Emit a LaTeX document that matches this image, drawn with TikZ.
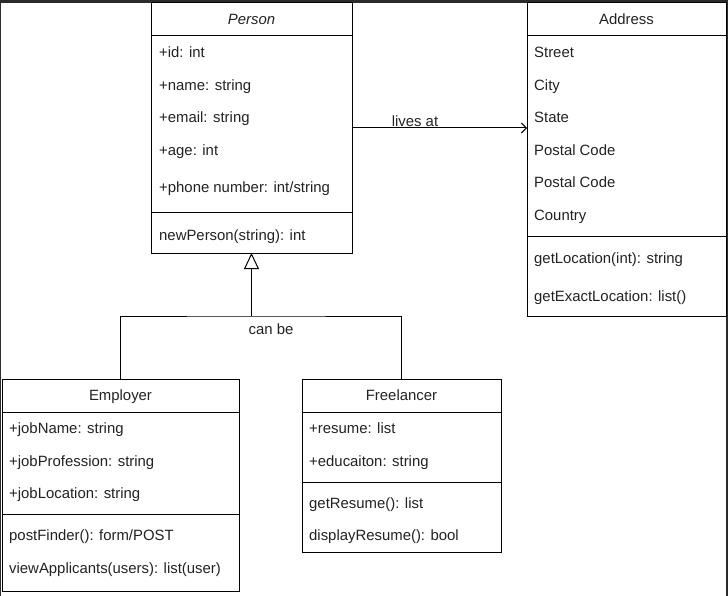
\documentclass[tikz,border=0pt]{standalone}
\usepackage{fontspec}
\setmainfont{Liberation Sans}
\usetikzlibrary{arrows.meta}
\definecolor{ink}{HTML}{222222}
\definecolor{framec}{HTML}{2B2B2B}
\begin{document}
\begin{tikzpicture}[x=1pt,y=-1pt,
  box/.style={draw=black, line width=1pt, anchor=north west, inner sep=0pt, outer sep=0pt},
  txt/.style={anchor=west, inner sep=0pt, text height=10.7pt, text depth=0pt, font=\fontsize{14.9}{16}\selectfont, text=ink},
  hdr/.style={txt, anchor=center},
  lbl/.style={txt, anchor=center},
  sepline/.style={line width=1pt},
  conn/.style={line width=1pt, draw=black}]
\useasboundingbox (0,0) rectangle (728,596);
\fill[framec] (0,0) rectangle (728,3);
\draw[framec, line width=1pt] (0.5,0) -- (0.5,596);
\draw[framec, line width=2pt] (727,0) -- (727,596);

% Person
\node[box, minimum width=201pt, minimum height=250pt] (person) at (151,3) {};
\draw[sepline] ([yshift=-33pt]person.north west) -- ([yshift=-33pt]person.north east);
\draw[sepline] ([yshift=-210pt]person.north west) -- ([yshift=-210pt]person.north east);
\node[hdr] (personh) at (251.5,19) {\textit{Person}};
\node[txt] (p1) at (159,52) {+id: int};
\node[txt] (p2) at (159,85) {+name: string};
\node[txt] (p3) at (159,117) {+email: string};
\node[txt] (p4) at (159,150) {+age: int};
\node[txt] (p5) at (159,187) {+phone number: int/string};
\node[txt] (p6) at (159,235) {newPerson(string): int};

% Address
\node[box, minimum width=199pt, minimum height=313pt] (address) at (527,3) {};
\draw[sepline] ([yshift=-33pt]address.north west) -- ([yshift=-33pt]address.north east);
\draw[sepline] ([yshift=-233pt]address.north west) -- ([yshift=-233pt]address.north east);
\node[hdr] (addressh) at (626.5,19) {Address};
\node[txt] (a1) at (534,52) {Street};
\node[txt] (a2) at (534,85) {City};
\node[txt] (a3) at (534,117) {State};
\node[txt] (a4) at (534,150) {Postal Code};
\node[txt] (a5) at (534,182) {Postal Code};
\node[txt] (a6) at (534,215) {Country};
\node[txt] (a7) at (534,258) {getLocation(int): string};
\node[txt] (a8) at (534,296) {getExactLocation: list()};

% Employer
\node[box, minimum width=237pt, minimum height=212pt] (employer) at (2,379) {};
\draw[sepline] ([yshift=-33pt]employer.north west) -- ([yshift=-33pt]employer.north east);
\draw[sepline] ([yshift=-135pt]employer.north west) -- ([yshift=-135pt]employer.north east);
\node[hdr] (employerh) at (120.5,395) {Employer};
\node[txt] (e1) at (9,428) {+jobName: string};
\node[txt] (e2) at (9,461) {+jobProfession: string};
\node[txt] (e3) at (9,493) {+jobLocation: string};
\node[txt] (e4) at (9,535) {postFinder(): form/POST};
\node[txt] (e5) at (9,568) {viewApplicants(users): list(user)};

% Freelancer
\node[box, minimum width=199pt, minimum height=173pt] (freelancer) at (302,379) {};
\draw[sepline] ([yshift=-33pt]freelancer.north west) -- ([yshift=-33pt]freelancer.north east);
\draw[sepline] ([yshift=-103pt]freelancer.north west) -- ([yshift=-103pt]freelancer.north east);
\node[hdr] (freelancerh) at (401.5,395) {Freelancer};
\node[txt] (f1) at (309,428) {+resume: list};
\node[txt] (f2) at (309,461) {+educaiton: string};
\node[txt] (f3) at (309,503) {getResume(): list};
\node[txt] (f4) at (309,535) {displayResume(): bool};

% lives at
\draw[conn, -{Straight Barb[length=5pt,width=10pt]}] (person.east) -- (person.east -| address.west);
\node[lbl] (livesat) at (415,121) {lives at};

% inheritance
\coordinate (split) at (251.5,316);
\draw[conn] (employer.north) |- (split) -| (freelancer.north);
\draw[conn, -{Triangle[open, length=16pt, width=15pt]}] (split) -- (person.south);
\node[lbl] (canbe) at (271,329) {can be};
\end{tikzpicture}
\end{document}
